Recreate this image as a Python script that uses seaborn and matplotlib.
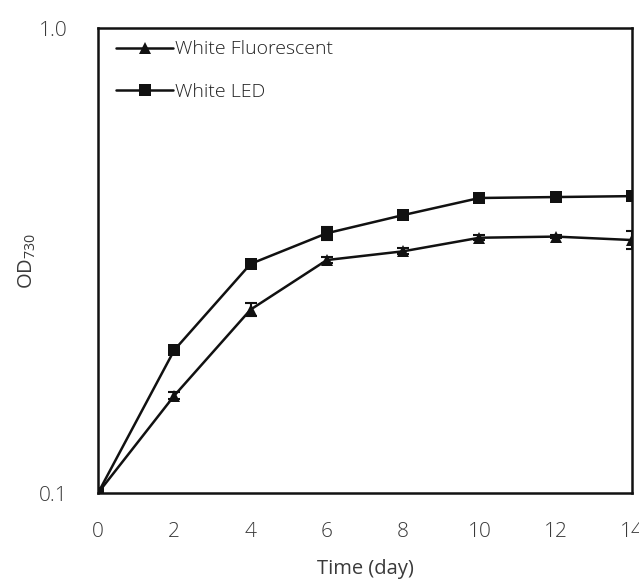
import matplotlib
matplotlib.use("Agg")
import matplotlib.pyplot as plt
import matplotlib.ticker as mticker
import seaborn as sns
import pandas as pd

# Growth of the culture under two light sources (mean OD730 and SD)
days = [0, 2, 4, 6, 8, 10, 12, 14]
od_fluorescent = [0.100, 0.162, 0.248, 0.317, 0.331, 0.354, 0.356, 0.350]
sd_fluorescent = [0.000, 0.003, 0.008, 0.004, 0.005, 0.004, 0.003, 0.016]
od_led = [0.100, 0.203, 0.311, 0.362, 0.396, 0.431, 0.433, 0.435]
sd_led = [0.000, 0.003, 0.004, 0.012, 0.005, 0.004, 0.003, 0.003]
series_names = ["White Fluorescent", "White LED"]
x_ticks = [0, 2, 4, 6, 8, 10, 12, 14]
y_ticks = [0.1, 1.0]
y_tick_labels = ["0.1", "1.0"]

sns.set_style("white")
plt.rcParams["font.family"] = ["Open Sans", "DejaVu Sans"]
plt.rcParams["font.weight"] = "light"
plt.rcParams["mathtext.fontset"] = "custom"
plt.rcParams["mathtext.rm"] = "Open Sans:light"

df = pd.concat([
    pd.DataFrame({"day": days, "od": od_fluorescent, "sd": sd_fluorescent, "light": series_names[0]}),
    pd.DataFrame({"day": days, "od": od_led, "sd": sd_led, "light": series_names[1]}),
])

fig = plt.figure(figsize=(6.39, 5.79), dpi=100)
ax = fig.add_axes([0.1534, 0.1485, 0.989 - 0.1534, 0.9516 - 0.1485])

markers = {series_names[0]: "^", series_names[1]: "s"}
for name in series_names:
    sub = df[df["light"] == name]
    ax.errorbar(sub["day"], sub["od"], yerr=sub["sd"], fmt="none",
                ecolor="#111111", elinewidth=1.5, capsize=4, capthick=1.5, zorder=2)
    sns.lineplot(data=sub, x="day", y="od", ax=ax, color="#111111", linewidth=1.8,
                 marker=markers[name], markersize=9, markeredgewidth=0,
                 label=name, zorder=3)

ax.set_yscale("log")
ax.set_ylim(0.1, 1.0)
ax.set_xlim(0, 14)
ax.yaxis.set_major_locator(mticker.FixedLocator(y_ticks))
ax.yaxis.set_major_formatter(mticker.FixedFormatter(y_tick_labels))
ax.yaxis.set_minor_locator(mticker.NullLocator())
ax.set_xticks(x_ticks)

for side in ["left", "right", "top", "bottom"]:
    ax.spines[side].set_visible(True)
    ax.spines[side].set_color("#111111")
    ax.spines[side].set_linewidth(1.8)

ax.tick_params(axis="both", which="major", direction="out", length=6, width=1.2,
               color="#111111", labelsize=15, labelcolor="#3a3a3a")
ax.tick_params(axis="x", pad=15)
ax.tick_params(axis="y", pad=16)

ax.set_xlabel("Time (day)", fontsize=14.5, color="#3a3a3a")
ax.xaxis.set_label_coords(0.5, -0.141)
ax.set_ylabel(r"$\mathregular{OD_{730}}$", fontsize=14.5, color="#3a3a3a")
ax.yaxis.set_label_coords(-0.112, 0.5)

leg = ax.legend(loc="upper left", frameon=False, fontsize=14, handlelength=2.9,
                handletextpad=0.1, labelspacing=1.25, borderaxespad=0.0,
                bbox_to_anchor=(0.02, 0.99))
for t in leg.get_texts():
    t.set_color("#222222")

fig.savefig("out.png", dpi=100)
